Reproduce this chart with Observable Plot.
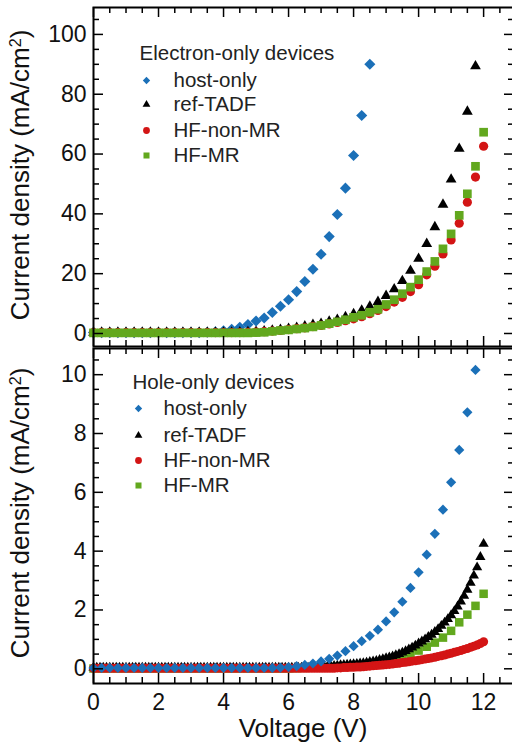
<!DOCTYPE html>
<html><head><meta charset="utf-8">
<script src="https://cdn.jsdelivr.net/npm/d3@7"></script>
<script src="https://cdn.jsdelivr.net/npm/@observablehq/plot@0.6"></script>
<style>
html,body{margin:0;padding:0;background:#fff;}
#chart{width:512px;height:749px;overflow:hidden;position:relative;}
#chart svg{display:block;}
.title{position:absolute;white-space:nowrap;font-family:'Liberation Sans',Arial,Helvetica,sans-serif;font-size:26px;color:#111;line-height:30px;}
.ytitle{transform:translate(-50%,-50%) rotate(-90deg);}
.xtitle{transform:translateX(-50%);}
.title sup{font-size:0.62em;vertical-align:baseline;position:relative;top:-0.5em;line-height:0;}
</style></head><body><div id="chart"></div>
<script>
const FONT = "'Liberation Sans', Arial, Helvetica, sans-serif";

// ---- voltage sweeps ----
const voltQuarter = [0,0.25,0.5,0.75,1,1.25,1.5,1.75,2,2.25,2.5,2.75,3,3.25,3.5,3.75,4,4.25,4.5,4.75,5,5.25,5.5,5.75,6,6.25,6.5,6.75,7,7.25,7.5,7.75,8,8.25,8.5,8.75,9,9.25,9.5,9.75,10,10.25,10.5,10.75,11,11.25,11.5,11.75,12];
const voltTenth = [
0,0.1,0.2,0.3,0.4,0.5,0.6,0.7,0.8,0.9,
1,1.1,1.2,1.3,1.4,1.5,1.6,1.7,1.8,1.9,
2,2.1,2.2,2.3,2.4,2.5,2.6,2.7,2.8,2.9,
3,3.1,3.2,3.3,3.4,3.5,3.6,3.7,3.8,3.9,
4,4.1,4.2,4.3,4.4,4.5,4.6,4.7,4.8,4.9,
5,5.1,5.2,5.3,5.4,5.5,5.6,5.7,5.8,5.9,
6,6.1,6.2,6.3,6.4,6.5,6.6,6.7,6.8,6.9,
7,7.1,7.2,7.3,7.4,7.5,7.6,7.7,7.8,7.9,
8,8.1,8.2,8.3,8.4,8.5,8.6,8.7,8.8,8.9,
9,9.1,9.2,9.3,9.4,9.5,9.6,9.7,9.8,9.9,
10,10.1,10.2,10.3,10.4,10.5,10.6,10.7,10.8,10.9,
11,11.1,11.2,11.3,11.4,11.5,11.6,11.7,11.8,11.9,
12];

// ---- Electron-only devices (mA/cm2) ----
const hostE = [0.3,0.3,0.3,0.3,0.3,0.3,0.3,0.3,0.3,0.3,0.3,0.3,0.3,0.3,
0.4,0.6,0.9,1.4,2.1,3.0,4.2,5.2,7.0,9.1,11.3,14.0,17.4,21.5,26.5,32.4,39.8,48.6,59.5,72.9,90.0];
const refE = [0.3,0.3,0.3,0.3,0.3,0.3,0.3,0.3,0.3,0.3,0.3,0.3,0.3,0.3,0.3,0.3,0.3,0.3,
0.4,0.5,0.6,0.8,1.0,1.3,1.6,1.9,2.4,2.9,3.3,4.0,4.6,5.5,6.5,7.7,9.0,10.6,12.6,14.8,17.6,21.0,25.0,30.0,35.6,43.1,51.5,61.8,74.2,89.4];
const nonMrE = [0.3,0.3,0.3,0.3,0.3,0.3,0.3,0.3,0.3,0.3,0.3,0.3,0.3,0.3,0.3,0.3,0.3,0.3,0.3,
0.4,0.5,0.6,0.8,1.0,1.3,1.6,1.9,2.3,2.7,3.2,3.7,4.3,4.9,5.6,6.6,7.7,9.0,10.5,12.1,14.0,16.3,19.6,22.5,26.6,31.3,36.9,43.9,52.3,62.6];
const mrE = [0.2,0.2,0.2,0.2,0.2,0.2,0.2,0.2,0.2,0.2,0.2,0.2,0.2,0.2,0.2,0.2,0.2,0.2,0.2,0.2,
0.3,0.4,0.7,1.0,1.2,1.5,1.8,2.2,2.7,3.3,3.9,4.6,5.4,6.1,7.1,8.1,9.7,11.3,13.3,15.5,18.0,20.7,24.1,28.3,33.3,39.5,46.7,55.9,67.3];

// ---- Hole-only devices (mA/cm2) ----
const hostH = [0.03,0.03,0.03,0.03,0.03,0.03,0.03,0.03,0.03,0.03,0.03,0.03,0.03,0.03,0.03,0.03,0.03,0.03,0.03,0.03,0.03,0.03,0.03,
0.04,0.06,0.09,0.13,0.18,0.25,0.34,0.45,0.60,0.77,0.94,1.12,1.33,1.61,1.92,2.28,2.75,3.28,3.88,4.59,5.41,6.34,7.44,8.72,10.16];
const refH = [
0.04,0.04,0.04,0.04,0.04,0.04,0.04,0.04,0.04,0.04,
0.04,0.04,0.04,0.04,0.04,0.04,0.04,0.04,0.04,0.04,
0.04,0.04,0.04,0.04,0.04,0.04,0.04,0.04,0.04,0.04,
0.04,0.04,0.04,0.04,0.04,0.04,0.04,0.04,0.04,0.04,
0.04,0.04,0.04,0.04,0.04,0.04,0.04,0.04,0.04,0.04,
0.04,0.04,0.04,0.04,0.04,0.04,0.04,0.04,0.04,0.04,
0.04,0.04,0.04,0.04,0.04,0.04,0.04,0.04,0.04,0.04,
0.06,0.07,0.08,0.09,0.10,0.11,0.12,0.13,0.14,0.15,
0.16,0.17,0.18,0.19,0.21,0.23,0.25,0.27,0.30,0.33,
0.36,0.39,0.42,0.46,0.50,0.55,0.60,0.66,0.72,0.79,
0.86,0.93,1.00,1.08,1.16,1.25,1.35,1.46,1.57,1.69,
1.82,1.96,2.12,2.29,2.48,2.69,2.92,3.17,3.45,3.80,
4.25];
const nonMrH = [
0.02,0.02,0.02,0.02,0.02,0.02,0.02,0.02,0.02,0.02,
0.02,0.02,0.02,0.02,0.02,0.02,0.02,0.02,0.02,0.02,
0.02,0.02,0.02,0.02,0.02,0.02,0.02,0.02,0.02,0.02,
0.02,0.02,0.02,0.02,0.02,0.02,0.02,0.02,0.02,0.02,
0.02,0.02,0.02,0.02,0.02,0.02,0.02,0.02,0.02,0.02,
0.02,0.02,0.02,0.02,0.02,0.02,0.02,0.02,0.02,0.02,
0.02,0.02,0.02,0.02,0.02,0.02,0.02,0.02,0.02,0.02,
0.02,0.02,0.02,0.02,0.02,0.03,0.03,0.04,0.04,0.05,
0.05,0.06,0.06,0.07,0.08,0.09,0.10,0.11,0.12,0.13,
0.14,0.15,0.16,0.18,0.19,0.21,0.22,0.24,0.26,0.27,
0.29,0.31,0.33,0.35,0.37,0.39,0.42,0.44,0.47,0.50,
0.53,0.56,0.59,0.62,0.66,0.69,0.73,0.77,0.81,0.86,
0.92];
const mrH = [0.01,0.01,0.01,0.01,0.01,0.01,0.01,0.01,0.01,0.01,0.01,0.01,0.01,0.01,0.01,0.01,0.01,0.01,0.01,0.01,0.01,0.01,0.01,0.01,0.01,
0.02,0.03,0.04,0.05,0.06,0.07,0.09,0.10,0.12,0.14,0.18,0.25,0.33,0.41,0.50,0.62,0.75,0.89,1.06,1.29,1.58,1.84,2.14,2.55];

// ---- labels, ticks, colours ----
const seriesNames = ["host-only","ref-TADF","HF-non-MR","HF-MR"];
const seriesSymbols = ["diamond2","triangle","circle","square"];
const seriesColors = ["#1b70b8","#000000","#d31515","#62a81e"];
const legendTitles = ["Electron-only devices","Hole-only devices"];
const yTitleMain = "Current density (mA/cm";
const yTitleSup = "2";
const yTitleEnd = ")";
const xTitle = "Voltage (V)";
const xMajor = [0,2,4,6,8,10,12];
const xMinor = [0.5,1,1.5,2.5,3,3.5,4.5,5,5.5,6.5,7,7.5,8.5,9,9.5,10.5,11,11.5,12.5];
const yMajorE = [0,20,40,60,80,100];
const yMinorE = [5,10,15,25,30,35,45,50,55,65,70,75,85,90,95,105];
const yMajorH = [0,2,4,6,8,10];
const yMinorH = [0.5,1,1.5,2.5,3,3.5,4.5,5,5.5,6.5,7,7.5,8.5,9,9.5,10.5];

const rows = (volts, values) => values.map((J, i) => ({V: volts[i], J}));

const MAJOR = 10, MINOR = 6, WIDTH = 512, ML = 93, MR = -2;
const FRAME_W = WIDTH - ML - MR;

function panel(cfg) {
  const frameH = cfg.height - cfg.marginTop - cfg.marginBottom;
  const tk = {stroke: "#000", strokeWidth: 1.5};
  const marks = [];
  for (const s of cfg.order) {
    marks.push(Plot.dot(rows(s.volts, s.values), {
      x: "V", y: "J", symbol: seriesSymbols[s.k], r: cfg.r[s.k],
      fill: seriesColors[s.k], stroke: "none"
    }));
  }
  marks.push(Plot.frame({stroke: "#000", strokeWidth: 2}));
  for (const [ticks, len] of [[xMajor, MAJOR], [xMinor, MINOR]]) {
    marks.push(Plot.tickX(ticks, {x: d => d, insetBottom: frameH - len, ...tk}));
    marks.push(Plot.tickX(ticks, {x: d => d, insetTop: frameH - len, ...tk}));
  }
  for (const [ticks, len] of [[cfg.yMajor, MAJOR], [cfg.yMinor, MINOR]]) {
    marks.push(Plot.tickY(ticks, {y: d => d, insetRight: FRAME_W - len, ...tk}));
    marks.push(Plot.tickY(ticks, {y: d => d, insetLeft: FRAME_W - len, ...tk}));
  }
  marks.push(Plot.axisY(cfg.yMajor, {anchor: "left", tickSize: 0, tickPadding: 7, fontSize: 23, label: null, fill: "#111"}));
  if (cfg.showX) {
    marks.push(Plot.axisX(xMajor, {anchor: "bottom", tickSize: 0, tickPadding: 10, fontSize: 23, label: null, fill: "#111"}));
  }
  return Plot.plot({
    width: WIDTH, height: cfg.height,
    marginTop: cfg.marginTop, marginBottom: cfg.marginBottom, marginLeft: ML, marginRight: MR,
    style: {fontFamily: FONT, background: "transparent", overflow: "visible", color: "#111"},
    x: {domain: [0, 12.95], axis: cfg.showX ? undefined : null},
    y: {domain: cfg.yDomain},
    marks
  });
}

// legend drawn as its own Plot layer over each panel
function legendLayer(cfg) {
  const L = cfg.legend;
  const marks = [
    Plot.text([cfg.title], {text: d => d, frameAnchor: "top-left", dx: L.titleDx, dy: L.titleDy,
      textAnchor: "start", lineAnchor: "middle", fontSize: 20.5, fill: "#222"})
  ];
  seriesNames.forEach((name, k) => {
    marks.push(Plot.dot([name], {frameAnchor: "top-left", dx: L.markDx, dy: L.itemDy[k],
      symbol: seriesSymbols[k], r: L.r[k], fill: seriesColors[k], stroke: "none"}));
    marks.push(Plot.text([name], {text: d => d, frameAnchor: "top-left", dx: L.textDx, dy: L.itemDy[k],
      textAnchor: "start", lineAnchor: "middle", fontSize: 20.5, fill: "#222"}));
  });
  const svg = Plot.plot({
    width: WIDTH, height: cfg.height,
    marginTop: cfg.marginTop, marginBottom: cfg.marginBottom, marginLeft: ML, marginRight: MR,
    style: {fontFamily: FONT, background: "transparent", overflow: "visible", color: "#111"},
    marks
  });
  svg.style.position = "absolute";
  svg.style.left = "0px";
  svg.style.top = cfg.offsetTop + "px";
  svg.style.pointerEvents = "none";
  return svg;
}

const topCfg = {
  height: 346, marginTop: 7, marginBottom: 0, offsetTop: 0, yDomain: [-4.35, 109],
  yMajor: yMajorE, yMinor: yMinorE, showX: false, title: legendTitles[0],
  r: [5.0, 4.0, 4.6, 4.9],
  order: [
    {k: 0, volts: voltQuarter, values: hostE},
    {k: 1, volts: voltQuarter, values: refE},
    {k: 2, volts: voltQuarter, values: nonMrE},
    {k: 3, volts: voltQuarter, values: mrE}
  ],
  legend: {titleDx: 46, titleDy: 46, markDx: 53, textDx: 80, itemDy: [73, 97, 123, 148], r: [3.3, 2.9, 3.4, 3.4]}
};
const bottomCfg = {
  height: 403, marginTop: 2, marginBottom: 66, offsetTop: 346, yDomain: [-0.5, 10.89],
  yMajor: yMajorH, yMinor: yMinorH, showX: true, title: legendTitles[1],
  r: [4.6, 3.8, 4.5, 4.8],
  order: [
    {k: 3, volts: voltQuarter, values: mrH},
    {k: 1, volts: voltTenth, values: refH},
    {k: 2, volts: voltTenth, values: nonMrH},
    {k: 0, volts: voltQuarter, values: hostH}
  ],
  legend: {titleDx: 39, titleDy: 34, markDx: 45, textDx: 70, itemDy: [60, 87, 112, 137], r: [3.3, 2.9, 3.4, 3.4]}
};

const chart = document.getElementById("chart");
chart.appendChild(panel(topCfg));
chart.appendChild(panel(bottomCfg));
chart.appendChild(legendLayer(topCfg));
chart.appendChild(legendLayer(bottomCfg));

// axis titles
function addYTitle(cy) {
  const d = document.createElement("div");
  d.className = "title ytitle";
  d.style.left = "20px";
  d.style.top = cy + "px";
  d.appendChild(document.createTextNode(yTitleMain));
  const sup = document.createElement("sup");
  sup.textContent = yTitleSup;
  d.appendChild(sup);
  d.appendChild(document.createTextNode(yTitleEnd));
  chart.appendChild(d);
}
addYTitle(175);
addYTitle(513);
const xt = document.createElement("div");
xt.className = "title xtitle";
xt.style.left = "303px";
xt.style.top = "713px";
xt.textContent = xTitle;
chart.appendChild(xt);
</script></body></html>
